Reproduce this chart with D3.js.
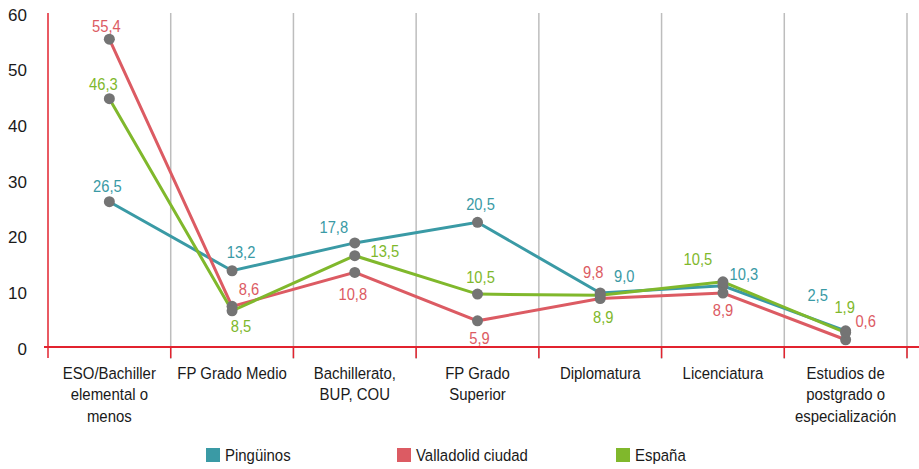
<!DOCTYPE html>
<html>
<head>
<meta charset="utf-8">
<script src="https://cdn.jsdelivr.net/npm/d3@7"></script>
<style>
  body { margin: 0; background: #fff; }
  svg text { font-family: "Liberation Sans Narrow", "Liberation Sans", Arial, sans-serif; }
</style>
</head>
<body>
<div id="chart"></div>
<script>
var categories = ['ESO/Bachiller elemental o menos', 'FP Grado Medio', 'Bachillerato, BUP, COU', 'FP Grado Superior', 'Diplomatura', 'Licenciatura', 'Estudios de postgrado o especialización'];
// category labels split in lines
var catLines = [['ESO/Bachiller', 'elemental o', 'menos'], ['FP Grado Medio'], ['Bachillerato,', 'BUP, COU'], ['FP Grado', 'Superior'], ['Diplomatura'], ['Licenciatura'], ['Estudios de', 'postgrado o', 'especialización']];
var seriesNames = ['Pingüinos', 'Valladolid ciudad', 'España'];
// plotted point values (as drawn)
var pinguinos = [26.1, 13.7, 18.7, 22.4, 9.7, 11.0, 2.9];
var valladolid = [55.3, 7.3, 13.4, 4.7, 8.7, 9.7, 1.3];
var espana = [44.6, 6.5, 16.4, 9.5, 9.3, 11.7, 2.6];
// printed labels
var pinguinosLbl = ['26,5', '13,2', '17,8', '20,5', '9,0', '10,3', '2,5'];
var valladolidLbl = ['55,4', '8,6', '10,8', '5,9', '9,8', '8,9', '0,6'];
var espanaLbl = ['46,3', '8,5', '13,5', '10,5', '8,9', '10,5', '1,9'];
var yTicks = [0, 10, 20, 30, 40, 50, 60];

var colors = ['#3a9aa5', '#dc5b63', '#80b82c'];
var series = [
  {name: seriesNames[0], vals: pinguinos, lbl: pinguinosLbl, color: colors[0]},
  {name: seriesNames[1], vals: valladolid, lbl: valladolidLbl, color: colors[1]},
  {name: seriesNames[2], vals: espana, lbl: espanaLbl, color: colors[2]}
];
// label offsets [dx, dy] from the point, per series
var lblOff = [
  [[-2,-15],[9,-19],[-21,-16],[3,-18],[24,-17],[21,-12],[-28,-36]],
  [[-3,-13],[17,-17],[-2,22],[2,17],[-7,-26],[0,17],[20,-19]],
  [[-6,-14],[9,15],[30,-4],[3,-17],[3,22],[-25,-23],[-1,-25]]
];
var SQ = 0.88; // horizontal squeeze, font is condensed in the original

var W = 919, H = 469;
var svg = d3.select('#chart').append('svg').attr('width', W).attr('height', H);

var x = d3.scaleBand().domain(categories).range([48, 907]).padding(0);
var y = d3.scaleLinear().domain([0, 60]).range([347, 13]);
var cx = function(i){ return x(categories[i]) + x.bandwidth()/2; };

// vertical grid
svg.selectAll('line.grid').data(categories).enter().append('line')
  .attr('class', 'grid')
  .attr('x1', function(d){ return x(d) + x.bandwidth(); })
  .attr('x2', function(d){ return x(d) + x.bandwidth(); })
  .attr('y1', y(60)).attr('y2', 359)
  .style('stroke', '#bdbdbd').style('stroke-width', 1.5);

// y axis
var yAxis = d3.axisLeft(y).tickValues(yTicks).tickSize(0).tickPadding(21);
var ya = svg.append('g').attr('transform', 'translate(48,0)').call(yAxis);
ya.select('.domain').remove();
ya.selectAll('text').style('font-size', '17px').style('fill', '#1a1a1a').attr('dy', '0.42em');
svg.append('line').attr('x1', 48).attr('x2', 48).attr('y1', y(60)).attr('y2', 358)
  .style('stroke', '#e2232f').style('stroke-width', 1.5);

// x axis
svg.append('line').attr('x1', 44).attr('x2', 919).attr('y1', y(0)).attr('y2', y(0))
  .style('stroke', '#e2232f').style('stroke-width', 2);
svg.selectAll('line.xtick').data(categories).enter().append('line')
  .attr('class', 'xtick')
  .attr('x1', function(d){ return x(d) + x.bandwidth(); })
  .attr('x2', function(d){ return x(d) + x.bandwidth(); })
  .attr('y1', y(0)).attr('y2', 358)
  .style('stroke', '#e2232f').style('stroke-width', 1.5);

var cl = svg.selectAll('text.cat').data(categories).enter().append('text')
  .attr('class', 'cat')
  .attr('transform', function(d){ return 'translate(' + (x(d) + x.bandwidth()/2) + ',379) scale(' + SQ + ',1)'; })
  .attr('text-anchor', 'middle')
  .style('font-size', '17px').style('fill', '#1a1a1a');
cl.each(function(d, i){
  var t = d3.select(this);
  catLines[i].forEach(function(s, j){
    t.append('tspan').attr('x', 0).attr('dy', j ? 21.5 : 0).text(s);
  });
});

// lines
var line = d3.line()
  .x(function(d, i){ return cx(i); })
  .y(function(d){ return y(d); });
series.forEach(function(s){
  svg.append('path').datum(s.vals).attr('d', line)
    .style('fill', 'none').style('stroke', s.color).style('stroke-width', 3);
});
series.forEach(function(s){
  svg.selectAll(null).data(s.vals).enter().append('circle')
    .attr('cx', function(d, i){ return cx(i); })
    .attr('cy', function(d){ return y(d); })
    .attr('r', 5.5)
    .style('fill', '#747474');
});
series.forEach(function(s, k){
  svg.selectAll(null).data(s.vals).enter().append('text')
    .attr('transform', function(d, i){
      return 'translate(' + (cx(i) + lblOff[k][i][0]) + ',' + (y(d) + lblOff[k][i][1]) + ') scale(0.92,1)';
    })
    .attr('dy', '0.36em')
    .attr('text-anchor', 'middle')
    .style('font-size', '16px').style('fill', s.color)
    .text(function(d, i){ return s.lbl[i]; });
});

// legend
var legX = [206, 397, 616];
var leg = svg.selectAll('g.leg').data(series).enter().append('g')
  .attr('class', 'leg')
  .attr('transform', function(d, i){ return 'translate(' + legX[i] + ',448)'; });
leg.append('rect').attr('width', 14).attr('height', 14).style('fill', function(d){ return d.color; });
leg.append('text').attr('transform', 'translate(19,7) scale(' + SQ + ',1)').attr('dy', '0.36em')
  .style('font-size', '17px').style('fill', '#1a1a1a')
  .text(function(d){ return d.name; });
</script>
</body>
</html>
